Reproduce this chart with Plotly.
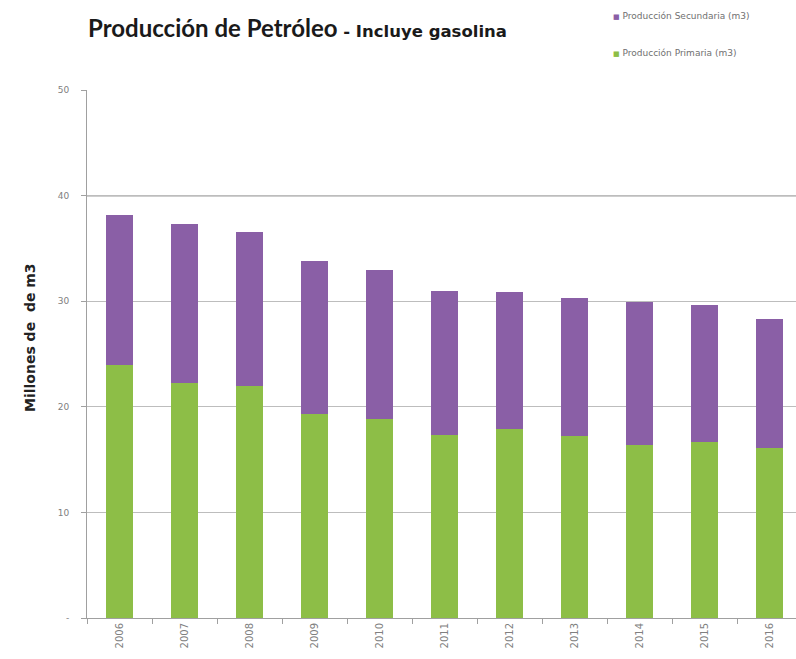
import plotly.graph_objects as go

# Producción anual de petróleo (millones de m3)
years = ["2006", "2007", "2008", "2009", "2010", "2011", "2012", "2013", "2014", "2015", "2016"]
primaria = [24.0, 22.3, 22.0, 19.3, 18.8, 17.3, 17.9, 17.2, 16.4, 16.7, 16.1]
total = [38.2, 37.3, 36.6, 33.8, 33.0, 31.0, 30.9, 30.35, 29.95, 29.6, 28.3]
secundaria = [round(t - p, 2) for t, p in zip(total, primaria)]

y_ticks = [0, 10, 20, 30, 40, 50]
y_tick_text = ["-", "10", "20", "30", "40", "50"]

GREEN = "#8DBE47"
PURPLE = "#8A5FA6"
FONT = "Lato, 'Open Sans', sans-serif"
WIDE = "'DejaVu Sans', sans-serif"

W, H = 796, 659
ML, MT, MB = 87, 90, 41
plot_w = W - ML
plot_h = H - MT - MB

fig = go.Figure()
fig.add_trace(go.Bar(x=years, y=primaria, name="Producción Primaria (m3)",
                     marker=dict(color=GREEN, line=dict(width=0)), showlegend=False))
fig.add_trace(go.Bar(x=years, y=secundaria, name="Producción Secundaria (m3)",
                     marker=dict(color=PURPLE, line=dict(width=0)), showlegend=False))

# darker rule on the 40 line
fig.add_shape(type="line", xref="paper", x0=0, x1=1, yref="y", y0=40, y1=40,
              line=dict(color="#3c3c3c", width=1.2), layer="below")

fig.update_layout(
    width=W, height=H,
    margin=dict(l=ML, r=0, t=MT, b=MB),
    paper_bgcolor="white", plot_bgcolor="white",
    barmode="stack", bargap=0.58,
    font=dict(family=WIDE, color="#808080", size=9),
    title=dict(
        text=("<b>Producción de Petróleo</b>"
              "<span style=\"font-family:'DejaVu Sans';font-size:16.5px\"><b> - Incluye gasolina</b></span>"),
        x=88 / W, xref="container", xanchor="left",
        y=1 - 29 / H, yref="container", yanchor="middle",
        font=dict(family=FONT, size=24, color="#1a1a1a"),
    ),
    xaxis=dict(
        range=[-0.5, -0.5 + plot_w / 65.0],
        tickangle=-90, ticks="outside", ticklen=5, tickcolor="#a0a0a0",
        tickson="boundaries", showline=True, linecolor="#a0a0a0", linewidth=1,
        showgrid=False, tickfont=dict(family=WIDE, size=10, color="#808080"),
    ),
    yaxis=dict(
        range=[0, 50], tickvals=y_ticks, ticktext=y_tick_text,
        ticks="outside", ticklen=5, tickcolor="#a0a0a0",
        showline=True, linecolor="#a0a0a0", linewidth=1,
        showgrid=True, gridcolor="#bdbdbd", gridwidth=1, zeroline=False,
        ticklabelstandoff=10, tickfont=dict(family=WIDE, size=9, color="#808080"),
    ),
)

# axis title
fig.add_annotation(text="<b>Millones de  de m3</b>", textangle=-90,
                   xref="paper", x=(20 - ML) / plot_w, yref="paper", y=(H - MB - 338) / plot_h,
                   showarrow=False, font=dict(family=WIDE, size=14, color="#222222"))

# legend entries
legend_items = [("Producción Secundaria (m3)", PURPLE, 16),
                ("Producción Primaria (m3)", GREEN, 53)]
for label, color, ypx in legend_items:
    fig.add_annotation(
        text=f"<span style='color:{color};font-size:7px'>■</span> {label}",
        xref="paper", x=(611 - ML) / plot_w, xanchor="left",
        yref="paper", y=(H - MB - ypx) / plot_h, yanchor="middle",
        showarrow=False, font=dict(family=WIDE, size=9, color="#707070"),
    )

fig.write_html("out.html")
